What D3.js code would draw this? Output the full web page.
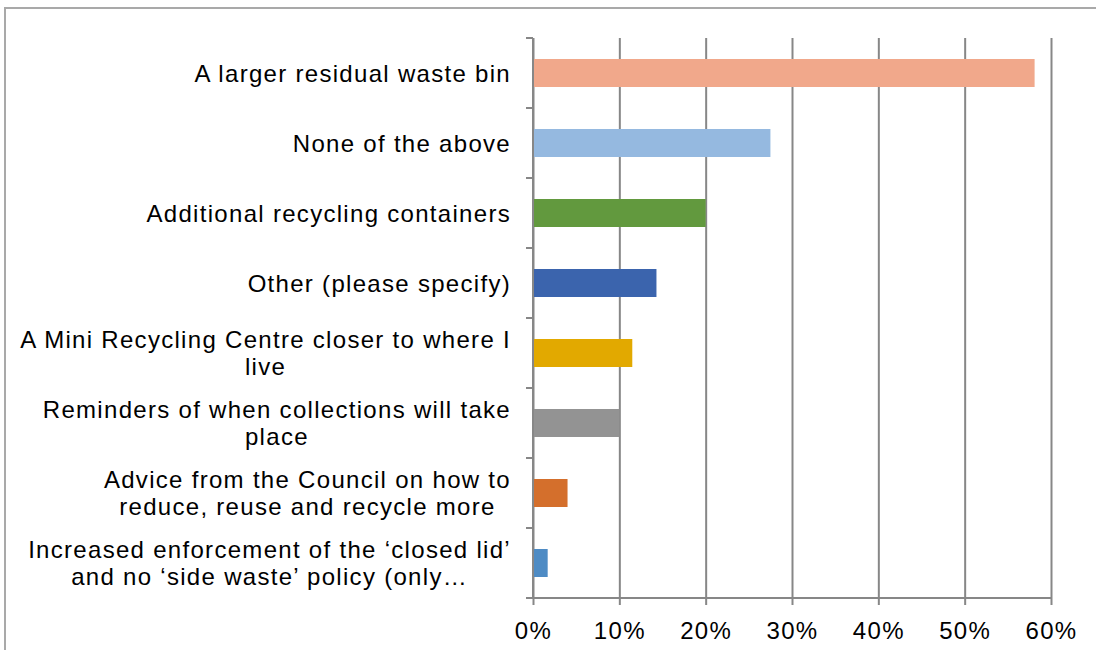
<!DOCTYPE html>
<html>
<head>
<meta charset="utf-8">
<script src="https://cdn.jsdelivr.net/npm/d3@7"></script>
<style>
  html, body { margin: 0; padding: 0; background: #fff; }
  svg { display: block; }
  text { font-family: "Liberation Sans", Arial, sans-serif; fill: #000; }
</style>
</head>
<body>
<svg id="chart" width="1096" height="650"></svg>
<script>
// ---- data ----
const categories = [
  "A larger residual waste bin",
  "None of the above",
  "Additional recycling containers",
  "Other (please specify)",
  "A Mini Recycling Centre closer to where I|live",
  "Reminders of when collections will take|place",
  "Advice from the Council on how to|reduce, reuse and recycle more",
  "Increased enforcement of the \u2018closed lid\u2019|and no \u2018side waste\u2019 policy (only\u2026"
];
const values = [58.1, 27.5, 20.0, 14.3, 11.5, 10.0, 4.0, 1.7];
const barColors = ["#f1a88b", "#95b9e0", "#62993e", "#3b64ad", "#e2a900", "#939393", "#d46f2c", "#4e8bc4"];
const xTicks = [0, 10, 20, 30, 40, 50, 60];
const xTickLabels = ["0%", "10%", "20%", "30%", "40%", "50%", "60%"];

// ---- layout ----
const svg = d3.select("#chart");
const plotL = 533, plotR = 1051, plotT = 38, plotB = 598;
const gridColor = "#878787";
const fontSize = 24, letterSp = 1.3;

// chart frame
svg.append("rect")
  .attr("x", 5).attr("y", 8).attr("width", 1100).attr("height", 660)
  .attr("fill", "#fff").attr("stroke", "#a9a9a9").attr("stroke-width", 2);

const x = d3.scaleLinear().domain([0, 60]).range([plotL, plotR]);
const y = d3.scaleBand().domain(categories).range([plotT, plotB])
  .paddingInner(0.6).paddingOuter(0.3);

// vertical gridlines + bottom ticks (via d3 axis)
const xAxis = d3.axisBottom(x).tickValues(xTicks)
  .tickFormat((d, i) => xTickLabels[i])
  .tickSize(7).tickPadding(17);
const gx = svg.append("g").attr("transform", `translate(0,${plotB})`).call(xAxis);
gx.select(".domain").remove();
gx.selectAll(".tick line").attr("stroke", gridColor).attr("stroke-width", 2)
  .attr("y1", -(plotB - plotT));
gx.selectAll(".tick text").attr("font-size", fontSize).attr("fill", "#000")
  .attr("letter-spacing", letterSp)
  .style("font-family", "'Liberation Sans', Arial, sans-serif");

// horizontal axis line (extends left to include the y-axis bottom tick)
svg.append("line").attr("x1", plotL - 7).attr("x2", plotR)
  .attr("y1", plotB).attr("y2", plotB)
  .attr("stroke", gridColor).attr("stroke-width", 2);

// y axis line and category boundary ticks
svg.append("line").attr("x1", plotL).attr("x2", plotL)
  .attr("y1", plotT).attr("y2", plotB)
  .attr("stroke", gridColor).attr("stroke-width", 2);
const step = y.step();
const boundaries = d3.range(categories.length + 1).map(i => plotT + i * step);
svg.selectAll(".ytick").data(boundaries).join("line")
  .attr("class", "ytick")
  .attr("x1", plotL - 7).attr("x2", plotL)
  .attr("y1", d => d).attr("y2", d => d)
  .attr("stroke", gridColor).attr("stroke-width", 2);

// bars
svg.selectAll(".bar").data(categories).join("rect")
  .attr("class", "bar")
  .attr("x", x(0) + 1)
  .attr("y", d => y(d))
  .attr("width", (d, i) => x(values[i]) - x(0) - 1)
  .attr("height", y.bandwidth())
  .attr("fill", (d, i) => barColors[i]);

// category labels (wrapped lines centered, block right-aligned)
const labelRight = 511;
const lineH = 26.5;
categories.forEach(cat => {
  const lines = cat.split("|");
  const g = svg.append("g");
  const cy = y(cat) + y.bandwidth() / 2;
  const texts = lines.map((ln, i) => g.append("text")
    .attr("font-size", fontSize)
    .attr("letter-spacing", letterSp)
    .attr("dominant-baseline", "central")
    .attr("y", cy + (i - (lines.length - 1) / 2) * lineH)
    .text(ln));
  const widths = texts.map(t => t.node().getComputedTextLength());
  const maxW = d3.max(widths);
  const cx = labelRight - maxW / 2;
  texts.forEach(t => t.attr("x", cx).attr("text-anchor", "middle"));
});
</script>
</body>
</html>
